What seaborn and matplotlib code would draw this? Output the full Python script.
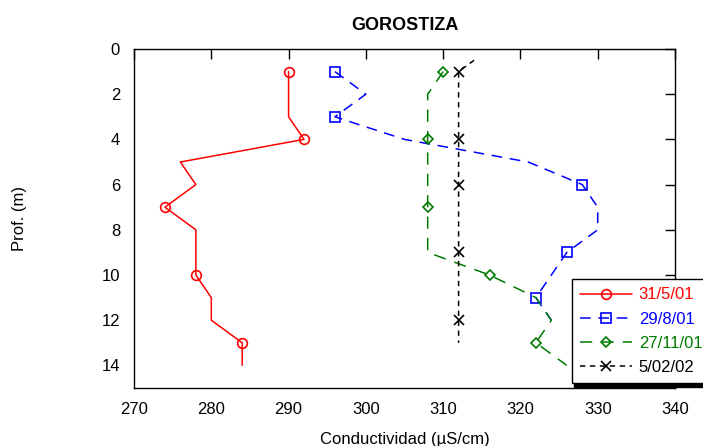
import matplotlib
matplotlib.use("Agg")
import matplotlib.pyplot as plt
import seaborn as sns
import pandas as pd
from matplotlib.lines import Line2D

# Conductivity profiles (uS/cm) versus depth (m) for each sampling date
depth_may = [1, 2, 3, 4, 5, 6, 7, 8, 9, 10, 11, 12, 13, 14]
cond_may = [290, 290, 290, 292, 276, 278, 274, 278, 278, 278, 280, 280, 284, 284]

depth_aug = [1, 2, 3, 4, 5, 6, 7, 8, 9, 10, 11, 12]
cond_aug = [296, 300, 296, 305, 321, 328, 330, 330, 326, 324, 322, 324]

depth_nov = [1, 2, 3, 4, 5, 6, 7, 8, 9, 10, 11, 12, 13, 14]
cond_nov = [310, 308, 308, 308, 308, 308, 308, 308, 308, 316, 322, 324, 322, 326]

depth_feb = [0.5, 1, 2, 3, 4, 5, 6, 7, 8, 9, 10, 11, 12, 13]
cond_feb = [314, 312, 312, 312, 312, 312, 312, 312, 312, 312, 312, 312, 312, 312]

labels = ["31/5/01", "29/8/01", "27/11/01", "5/02/02"]
colors = ["#ff0000", "#0000ff", "#007a00", "#000000"]

x_ticks = [270, 280, 290, 300, 310, 320, 330, 340]
y_ticks = [0, 2, 4, 6, 8, 10, 12, 14]

sns.set_theme(style="white")
plt.rcParams["font.family"] = ["Liberation Sans", "DejaVu Sans"]
plt.rcParams["text.color"] = "black"
plt.rcParams["axes.labelcolor"] = "black"

fig = plt.figure(figsize=(7.03, 4.46), dpi=100)
ax = fig.add_axes([134 / 703, 1 - 388 / 446, 541 / 703, 339 / 446])

series = [
    (depth_may, cond_may, dict(marker="o", linestyle="-", markevery=[0, 3, 6, 9, 12], ms=7)),
    (depth_aug, cond_aug, dict(marker="s", linestyle=(0, (7, 5)), markevery=[0, 2, 5, 8, 10], ms=6.5)),
    (depth_nov, cond_nov, dict(marker="D", linestyle=(0, (8, 6)), markevery=[0, 3, 6, 9, 12], ms=5)),
    (depth_feb, cond_feb, dict(marker="x", linestyle=(0, (3.5, 3)), markevery=[1, 4, 6, 9, 12], ms=7)),
]

handles = []
for (dep, cond, style), lab, col in zip(series, labels, colors):
    df = pd.DataFrame({"cond": cond, "depth": dep})
    sns.lineplot(data=df, x="cond", y="depth", sort=False, estimator=None, ax=ax,
                 color=col, lw=1.1, marker=style["marker"], markevery=style["markevery"],
                 ms=style["ms"], mfc="none", mec=col, mew=1.2,
                 linestyle=style["linestyle"])
    handles.append(Line2D([], [], color=col, lw=1.1, marker=style["marker"], ms=style["ms"],
                          mfc="none", mec=col, mew=1.2, linestyle=style["linestyle"]))

ax.set_xlim(270, 340)
ax.set_ylim(15, 0)
ax.set_xticks(x_ticks)
ax.set_yticks(y_ticks)
ax.tick_params(direction="in", length=7, width=1, top=True, right=True,
               labelsize=12, colors="black", labelcolor="black", pad=10)
for s in ax.spines.values():
    s.set_color("black")
    s.set_linewidth(1)

ax.set_title("GOROSTIZA", fontsize=13, fontweight="bold", pad=14, color="black")
ax.set_xlabel("Conductividad (µS/cm)", fontsize=12)
ax.set_ylabel("Prof. (m)", fontsize=12)
ax.xaxis.set_label_coords(0.5, -0.13)
ax.yaxis.set_label_coords(-0.198, 0.5)

leg = ax.legend(handles, labels, loc="upper left", bbox_to_anchor=(572 / 703, 1 - 279 / 446),
                bbox_transform=fig.transFigure, borderaxespad=0, fontsize=12,
                handlelength=3.1, handletextpad=0.4, labelspacing=0.55, borderpad=0.5,
                numpoints=1, fancybox=False, edgecolor="black", framealpha=1,
                shadow={"color": "black", "alpha": 1, "ox": 1.5, "oy": -3})
leg.get_frame().set_linewidth(1)
for txt, col in zip(leg.get_texts(), colors):
    txt.set_color(col)

fig.savefig("out.png", dpi=100, facecolor="white")
